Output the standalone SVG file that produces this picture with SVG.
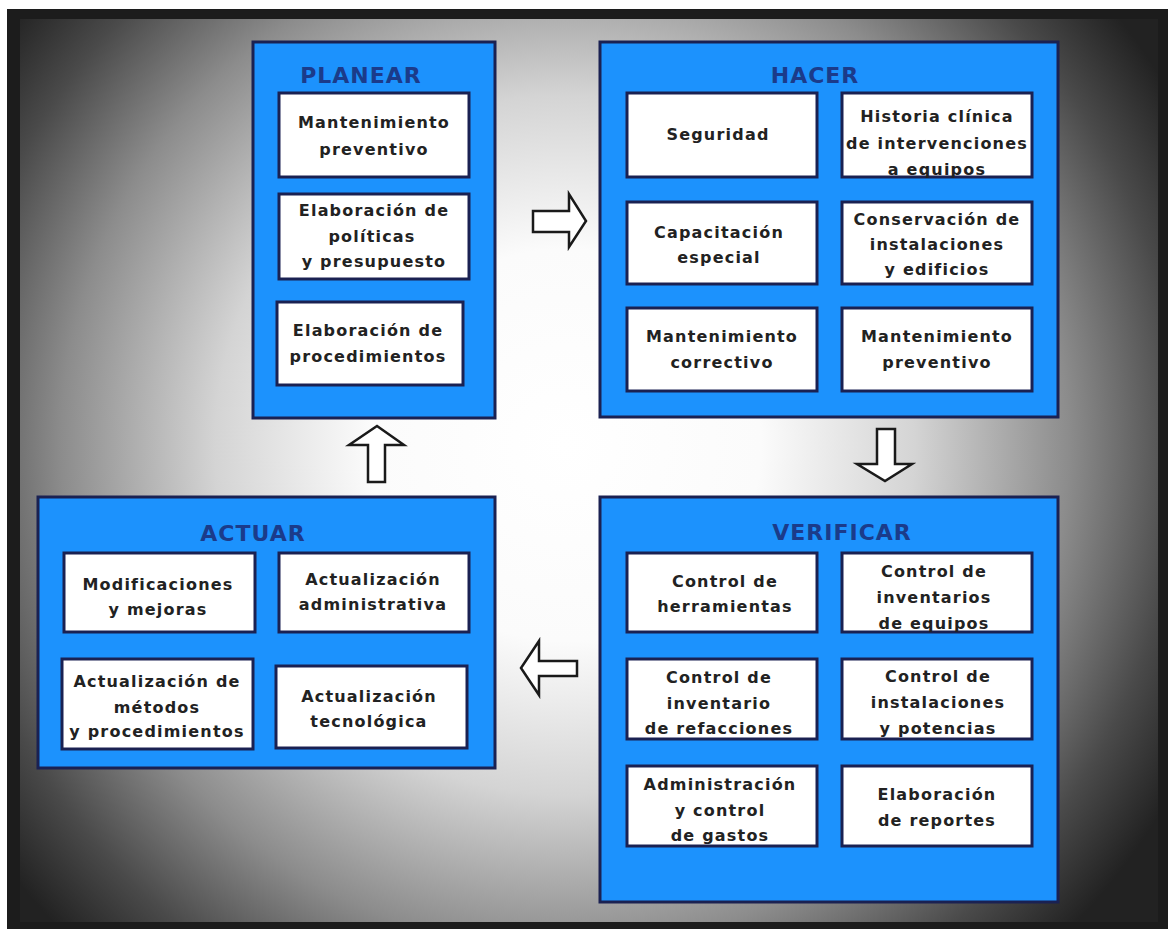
<svg xmlns="http://www.w3.org/2000/svg" width="1168" height="929" viewBox="0 0 1168 929">
  <defs>
    <radialGradient id="bg" gradientUnits="userSpaceOnUse" cx="565" cy="445" r="700">
      <stop offset="0" stop-color="#ffffff"/>
      <stop offset="0.28" stop-color="#fbfbfb"/>
      <stop offset="0.5" stop-color="#d4d4d4"/>
      <stop offset="0.72" stop-color="#8c8c8c"/>
      <stop offset="0.88" stop-color="#4a4a4a"/>
      <stop offset="1" stop-color="#222222"/>
    </radialGradient>
    <style>
      .phase { fill: #1c92fd; stroke: #1a2152; stroke-width: 3; }
      .item { fill: #ffffff; stroke: #1a2152; stroke-width: 3; }
      .title { font-family: "DejaVu Sans", Verdana, sans-serif; font-weight: bold; font-size: 22px; fill: #1b3b8a; text-anchor: middle; letter-spacing: 1px; }
      .lbl { font-family: "DejaVu Sans", Verdana, sans-serif; font-weight: bold; font-size: 16px; fill: #222222; text-anchor: middle; letter-spacing: 1.2px; }
      .arrow { fill: #ffffff; stroke: #1a1a1a; stroke-width: 2.5; stroke-linejoin: miter; }
    </style>
  </defs>

  <!-- page and dark frame -->
  <rect x="0" y="0" width="1168" height="929" fill="#ffffff"/>
  <rect x="7" y="9" width="1161" height="920" fill="#1c1c1c"/>
  <rect x="20" y="19" width="1138" height="903" fill="url(#bg)"/>

  <!-- PLANEAR -->
  <g id="planear">
    <rect class="phase" x="253" y="42" width="242" height="376"/>
    <text class="title" x="361" y="83">PLANEAR</text>
    <g id="planear-1">
      <rect class="item" x="279" y="93" width="190" height="84"/>
      <text class="lbl" x="374" y="128">Mantenimiento</text>
      <text class="lbl" x="374" y="155">preventivo</text>
    </g>
    <g id="planear-2">
      <rect class="item" x="279" y="194" width="190" height="85"/>
      <text class="lbl" x="374" y="216">Elaboración de</text>
      <text class="lbl" x="372" y="242">políticas</text>
      <text class="lbl" x="374" y="267">y presupuesto</text>
    </g>
    <g id="planear-3">
      <rect class="item" x="277" y="302" width="186" height="83"/>
      <text class="lbl" x="368" y="336">Elaboración de</text>
      <text class="lbl" x="368" y="362">procedimientos</text>
    </g>
  </g>

  <!-- HACER -->
  <g id="hacer">
    <rect class="phase" x="600" y="42" width="458" height="375"/>
    <text class="title" x="815" y="83">HACER</text>
    <g id="hacer-1">
      <rect class="item" x="627" y="93" width="190" height="84"/>
      <text class="lbl" x="718" y="140">Seguridad</text>
    </g>
    <g id="hacer-2">
      <rect class="item" x="842" y="93" width="190" height="84"/>
      <text class="lbl" x="937" y="122">Historia clínica</text>
      <text class="lbl" x="937" y="149">de intervenciones</text>
      <text class="lbl" x="937" y="175">a equipos</text>
    </g>
    <g id="hacer-3">
      <rect class="item" x="627" y="202" width="190" height="82"/>
      <text class="lbl" x="719" y="238">Capacitación</text>
      <text class="lbl" x="719" y="263">especial</text>
    </g>
    <g id="hacer-4">
      <rect class="item" x="842" y="202" width="190" height="82"/>
      <text class="lbl" x="937" y="225">Conservación de</text>
      <text class="lbl" x="937" y="250">instalaciones</text>
      <text class="lbl" x="937" y="275">y edificios</text>
    </g>
    <g id="hacer-5">
      <rect class="item" x="627" y="308" width="190" height="83"/>
      <text class="lbl" x="722" y="342">Mantenimiento</text>
      <text class="lbl" x="722" y="368">correctivo</text>
    </g>
    <g id="hacer-6">
      <rect class="item" x="842" y="308" width="190" height="83"/>
      <text class="lbl" x="937" y="342">Mantenimiento</text>
      <text class="lbl" x="937" y="368">preventivo</text>
    </g>
  </g>

  <!-- ACTUAR -->
  <g id="actuar">
    <rect class="phase" x="38" y="497" width="457" height="271"/>
    <text class="title" x="253" y="541">ACTUAR</text>
    <g id="actuar-1">
      <rect class="item" x="64" y="553" width="191" height="79"/>
      <text class="lbl" x="158" y="590">Modificaciones</text>
      <text class="lbl" x="158" y="615">y mejoras</text>
    </g>
    <g id="actuar-2">
      <rect class="item" x="279" y="553" width="190" height="79"/>
      <text class="lbl" x="373" y="585">Actualización</text>
      <text class="lbl" x="373" y="610">administrativa</text>
    </g>
    <g id="actuar-3">
      <rect class="item" x="62" y="659" width="191" height="90"/>
      <text class="lbl" x="157" y="687">Actualización de</text>
      <text class="lbl" x="157" y="713">métodos</text>
      <text class="lbl" x="157" y="737">y procedimientos</text>
    </g>
    <g id="actuar-4">
      <rect class="item" x="276" y="666" width="191" height="82"/>
      <text class="lbl" x="369" y="702">Actualización</text>
      <text class="lbl" x="369" y="727">tecnológica</text>
    </g>
  </g>

  <!-- VERIFICAR -->
  <g id="verificar">
    <rect class="phase" x="600" y="497" width="458" height="405"/>
    <text class="title" x="842" y="540">VERIFICAR</text>
    <g id="verificar-1">
      <rect class="item" x="627" y="553" width="190" height="79"/>
      <text class="lbl" x="725" y="587">Control de</text>
      <text class="lbl" x="725" y="612">herramientas</text>
    </g>
    <g id="verificar-2">
      <rect class="item" x="842" y="553" width="190" height="79"/>
      <text class="lbl" x="934" y="577">Control de</text>
      <text class="lbl" x="934" y="603">inventarios</text>
      <text class="lbl" x="934" y="629">de equipos</text>
    </g>
    <g id="verificar-3">
      <rect class="item" x="627" y="659" width="190" height="80"/>
      <text class="lbl" x="719" y="683">Control de</text>
      <text class="lbl" x="719" y="709">inventario</text>
      <text class="lbl" x="719" y="734">de refacciones</text>
    </g>
    <g id="verificar-4">
      <rect class="item" x="842" y="659" width="190" height="80"/>
      <text class="lbl" x="938" y="682">Control de</text>
      <text class="lbl" x="938" y="708">instalaciones</text>
      <text class="lbl" x="938" y="734">y potencias</text>
    </g>
    <g id="verificar-5">
      <rect class="item" x="627" y="766" width="190" height="80"/>
      <text class="lbl" x="720" y="790">Administración</text>
      <text class="lbl" x="720" y="816">y control</text>
      <text class="lbl" x="720" y="841">de gastos</text>
    </g>
    <g id="verificar-6">
      <rect class="item" x="842" y="766" width="190" height="80"/>
      <text class="lbl" x="937" y="800">Elaboración</text>
      <text class="lbl" x="937" y="826">de reportes</text>
    </g>
  </g>

  <!-- block arrows of the cycle -->
  <g id="connectors">
    <polygon class="arrow" points="533,211 569,211 569,194 586,221 569,247 569,232 533,232"/>
    <polygon class="arrow" points="877,429 895,429 895,464 912,464 885,481 857,464 877,464"/>
    <polygon class="arrow" points="577,661 539,661 539,641 521,668 539,695 539,676 577,676"/>
    <polygon class="arrow" points="368,482 368,445 349,445 377,426 404,445 385,445 385,482"/>
  </g>
</svg>
